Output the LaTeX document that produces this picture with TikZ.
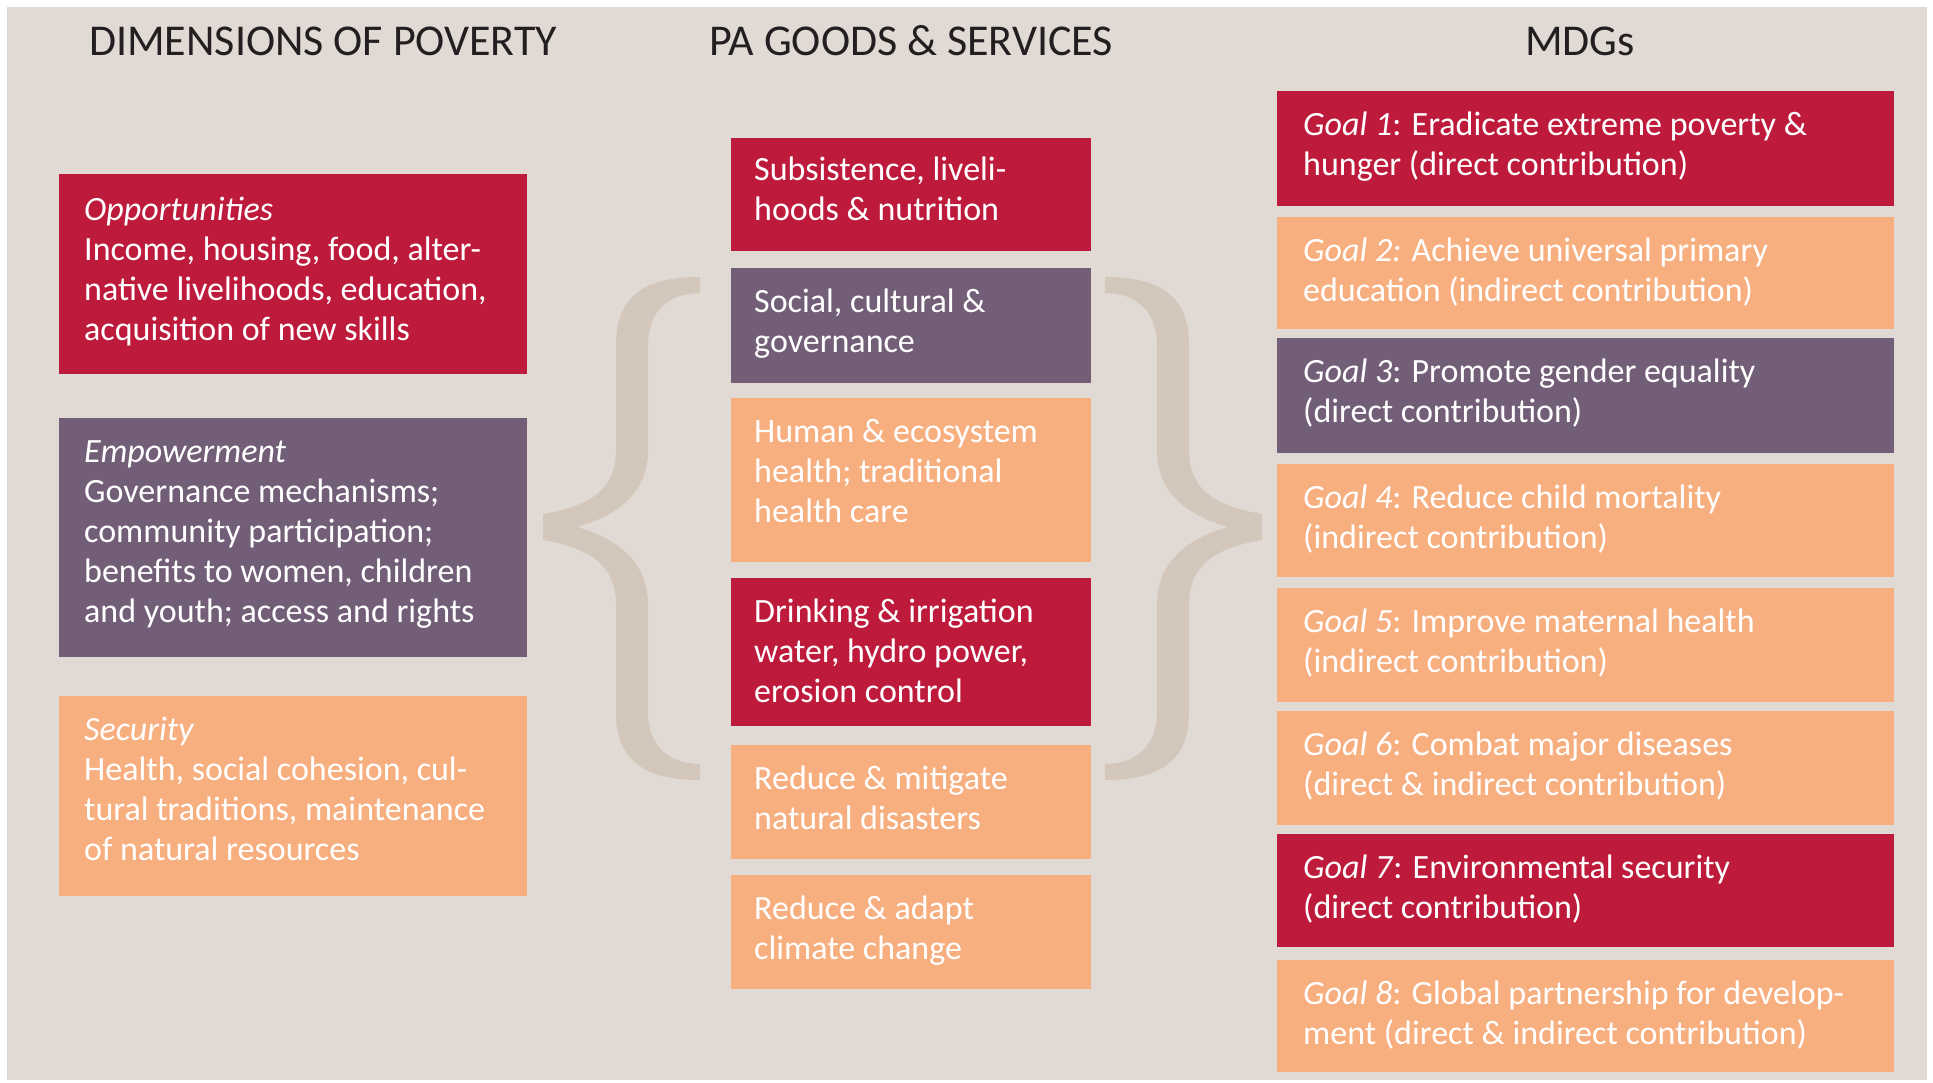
\documentclass[tikz,border=0pt]{standalone}
\usepackage{fontspec}
\setmainfont{Carlito}
\definecolor{bgc}{HTML}{E1DAD4}
\definecolor{cred}{HTML}{BE1A3B}
\definecolor{cpur}{HTML}{735E77}
\definecolor{corg}{HTML}{F8AF80}
\definecolor{bracec}{HTML}{D3C6BB}
\definecolor{headc}{HTML}{231F20}
\newcommand{\bracefig}{%
\fill[bracec] (700,277) .. controls (640,277) and (616,300) .. (616,345)
 -- (616,450) .. controls (616,490) and (590,506) .. (543,514)
 -- (543,540) .. controls (590,548) and (616,565) .. (616,605)
 -- (616,712) .. controls (616,757) and (640,780) .. (700,780)
 -- (700,764) .. controls (668,764) and (648,745) .. (648,712)
 -- (648,605) .. controls (648,565) and (622,540) .. (577,527)
 .. controls (622,514) and (648,490) .. (648,450)
 -- (648,345) .. controls (648,312) and (668,293) .. (700,293) -- cycle;}
\begin{document}
\begin{tikzpicture}[x=1pt,y=-1pt,
  boxn/.style={draw=none, inner sep=0pt, outer sep=0pt, anchor=north west},
  lbox/.style={boxn, minimum width=468pt},
  mbox/.style={boxn, minimum width=360pt},
  gbox/.style={boxn, minimum width=617pt},
  txt/.style={text=white, inner sep=0pt, anchor=north west, align=left, font=\fontsize{34}{40}\selectfont},
  head/.style={text=headc, inner sep=0pt, anchor=base west, font=\fontsize{44}{52}\selectfont}]
\useasboundingbox (0,0) rectangle (1933,1083);
\fill[white] (0,0) rectangle (1933,1083);
\fill[bgc] (7,7) rectangle (1927,1080);
% headings
\node[head] (h1) at (89,56) {DIMENSIONS OF POVERTY};
\node[head] (h2) at (709,56) {PA GOODS \& SERVICES};
\node[head] (h3) at (1525,56) {MDGs};
% braces
\bracefig
\begin{scope}[xshift=1805pt, xscale=-1]
\bracefig
\end{scope}
% left column
\node[lbox, fill=cred, minimum height=200pt] (l1) at (59,174) {};
\node[lbox, fill=cpur, minimum height=239pt] (l2) at (59,418) {};
\node[lbox, fill=corg, minimum height=200pt] (l3) at (59,696) {};
\node[txt] (tl1) at ([shift={(25,18)}]l1.north west) {\strut\textit{Opportunities}\\Income, housing, food, alter-\\native livelihoods, education,\\acquisition of new skills};
\node[txt] (tl2) at ([shift={(25,16)}]l2.north west) {\strut\textit{Empowerment}\\Governance mechanisms;\\community participation;\\benefits to women, children\\and youth; access and rights};
\node[txt] (tl3) at ([shift={(25,16)}]l3.north west) {\strut\textit{Security}\\Health, social cohesion, cul-\\tural traditions, maintenance\\of natural resources};
% middle column
\node[mbox, fill=cred, minimum height=113pt] (m1) at (731,138) {};
\node[mbox, fill=cpur, minimum height=115pt] (m2) at (731,268) {};
\node[mbox, fill=corg, minimum height=164pt] (m3) at (731,398) {};
\node[mbox, fill=cred, minimum height=148pt] (m4) at (731,578) {};
\node[mbox, fill=corg, minimum height=114pt] (m5) at (731,745) {};
\node[mbox, fill=corg, minimum height=114pt] (m6) at (731,875) {};
\node[txt] (tm1) at ([shift={(23,14)}]m1.north west) {\strut Subsistence, liveli-\\hoods \& nutrition};
\node[txt] (tm2) at ([shift={(23,16)}]m2.north west) {\strut Social, cultural \&\\governance};
\node[txt] (tm3) at ([shift={(23,16)}]m3.north west) {\strut Human \& ecosystem\\health; traditional\\health care};
\node[txt] (tm4) at ([shift={(23,16)}]m4.north west) {\strut Drinking \& irrigation\\water, hydro power,\\erosion control};
\node[txt] (tm5) at ([shift={(23,16)}]m5.north west) {\strut Reduce \& mitigate\\natural disasters};
\node[txt] (tm6) at ([shift={(23,16)}]m6.north west) {\strut Reduce \& adapt\\climate change};
% right column
\node[gbox, fill=cred, minimum height=115pt] (g1) at (1277,91) {};
\node[gbox, fill=corg, minimum height=112pt] (g2) at (1277,217) {};
\node[gbox, fill=cpur, minimum height=115pt] (g3) at (1277,338) {};
\node[gbox, fill=corg, minimum height=113pt] (g4) at (1277,464) {};
\node[gbox, fill=corg, minimum height=114pt] (g5) at (1277,588) {};
\node[gbox, fill=corg, minimum height=114pt] (g6) at (1277,711) {};
\node[gbox, fill=cred, minimum height=113pt] (g7) at (1277,834) {};
\node[gbox, fill=corg, minimum height=112pt] (g8) at (1277,960) {};
\node[txt] (tg1) at ([shift={(26,16)}]g1.north west) {\strut\textit{Goal 1}: Eradicate extreme poverty \&\\hunger (direct contribution)};
\node[txt] (tg2) at ([shift={(26,16)}]g2.north west) {\strut\textit{Goal 2:} Achieve universal primary\\education (indirect contribution)};
\node[txt] (tg3) at ([shift={(26,16)}]g3.north west) {\strut\textit{Goal 3}: Promote gender equality\\(direct contribution)};
\node[txt] (tg4) at ([shift={(26,16)}]g4.north west) {\strut\textit{Goal 4}: Reduce child mortality\\(indirect contribution)};
\node[txt] (tg5) at ([shift={(26,16)}]g5.north west) {\strut\textit{Goal 5}: Improve maternal health\\(indirect contribution)};
\node[txt] (tg6) at ([shift={(26,16)}]g6.north west) {\strut\textit{Goal 6}: Combat major diseases\\(direct \& indirect contribution)};
\node[txt] (tg7) at ([shift={(26,16)}]g7.north west) {\strut\textit{Goal 7}: Environmental security\\(direct contribution)};
\node[txt] (tg8) at ([shift={(26,16)}]g8.north west) {\strut\textit{Goal 8}: Global partnership for develop-\\ment (direct \& indirect contribution)};
\end{tikzpicture}
\end{document}
